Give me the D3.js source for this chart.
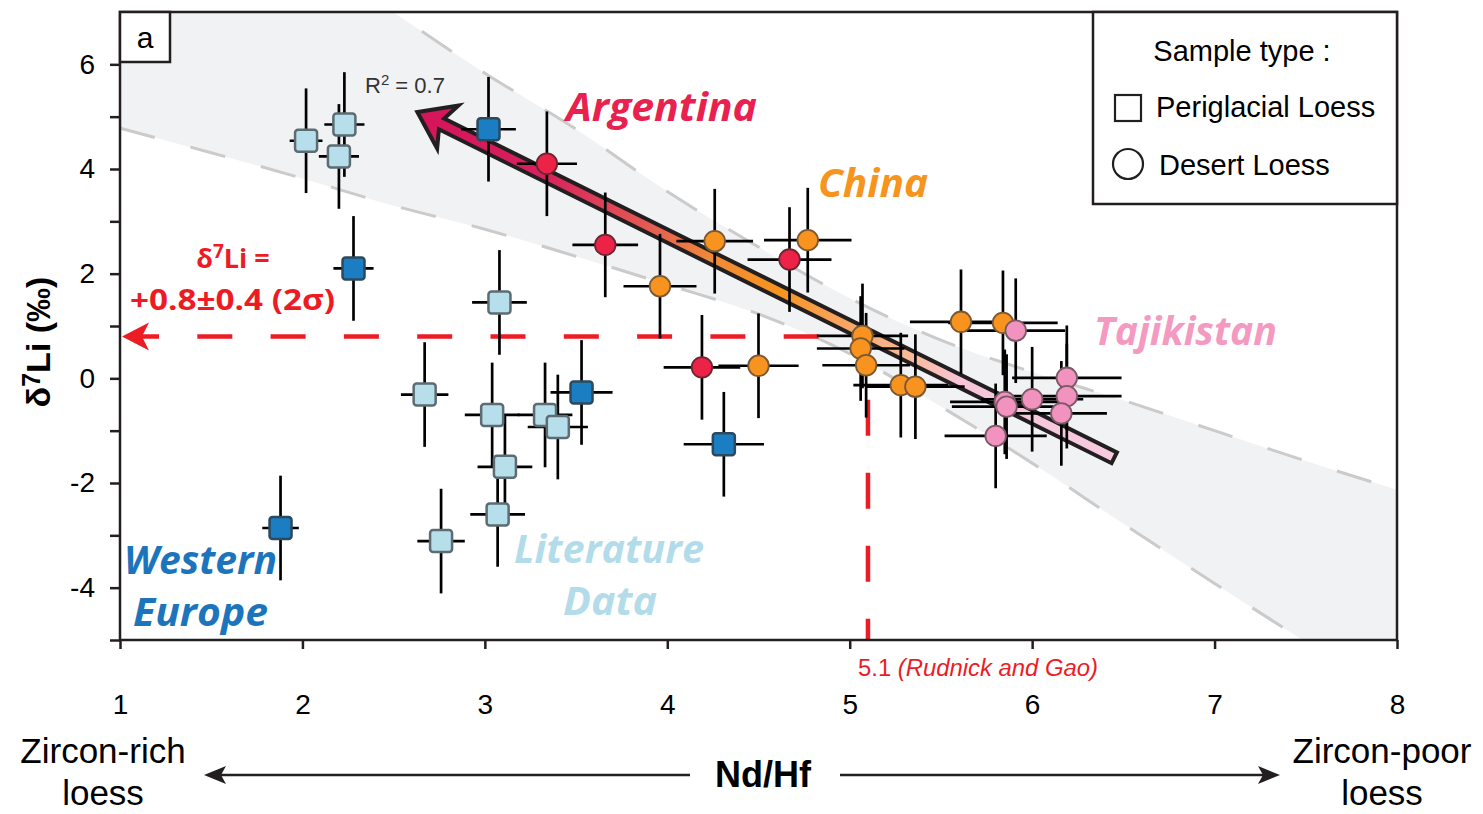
<!DOCTYPE html>
<html>
<head>
<meta charset="utf-8">
<script src="https://cdn.jsdelivr.net/npm/d3@7"></script>
<style>
  body { margin: 0; background: #fff; }
  svg { display: block; font-family: "Liberation Sans", Arial, sans-serif; }
</style>
</head>
<body>
<svg id="chart" width="1483" height="814"></svg>
<script>
// ---- data (Nd/Hf vs d7Li) ----
// Literature data, periglacial loess
const litX    = [2.02, 2.23, 2.20, 3.08, 2.67, 3.04, 3.33, 3.40, 3.11, 3.07, 2.76];
const litY    = [4.54, 4.85, 4.24, 1.45, -0.31, -0.70, -0.70, -0.93, -1.69, -2.60, -3.11];
const litXErr = [0.09, 0.11, 0.11, 0.15, 0.13, 0.15, 0.15, 0.165, 0.15, 0.15, 0.13];
const litYErr = [1, 1, 1, 1, 1, 1, 1, 1, 1, 1, 1];
// Western Europe, periglacial loess
const weuX    = [3.02, 2.28, 3.53, 4.31, 1.88];
const weuY    = [4.76, 2.10, -0.27, -1.26, -2.86];
const weuXErr = [0.15, 0.11, 0.17, 0.22, 0.10];
const weuYErr = [1, 1, 1, 1, 1];
// Argentina, desert loess
const argX    = [3.34, 3.66, 4.67, 4.19];
const argY    = [4.10, 2.55, 2.27, 0.21];
const argXErr = [0.165, 0.18, 0.23, 0.21];
const argYErr = [1, 1, 1, 1];
// China, desert loess
const chnX    = [4.26, 4.77, 3.96, 4.50, 5.07, 5.06, 5.09, 5.28, 5.36, 5.61, 5.84];
const chnY    = [2.62, 2.64, 1.76, 0.24, 0.81, 0.57, 0.25, -0.13, -0.16, 1.08, 1.06];
const chnXErr = [0.21, 0.24, 0.20, 0.22, 0.25, 0.24, 0.24, 0.26, 0.27, 0.28, 0.30];
const chnYErr = [1, 1, 1, 1, 1, 1, 1, 1, 1, 1, 1];
// Tajikistan, desert loess
const tjkX    = [5.91, 6.19, 6.19, 6.16, 6.00, 5.85, 5.86, 5.80];
const tjkY    = [0.91, 0.01, -0.34, -0.67, -0.40, -0.45, -0.54, -1.10];
const tjkXErr = [0.27, 0.30, 0.30, 0.25, 0.28, 0.30, 0.30, 0.28];
const tjkYErr = [1, 1, 1, 1, 1, 1, 1, 1];

// regression (R2 = 0.7) and its confidence band
const regIntercept = 9.64;
const regSlope = -1.73;
const regRange = [2.63, 6.45];
const bandX  = [1, 1.5, 2, 2.5, 3, 3.5, 4, 4.5, 5, 5.5, 6, 6.5, 7, 7.5, 8];
const bandHi = [10.55, 9.34, 8.13, 6.99, 5.83, 4.76, 3.57, 2.51, 1.53, 0.73, 0.12, -0.42, -1.0, -1.58, -2.13];
const bandLo = [4.78, 4.31, 3.82, 3.30, 2.85, 2.33, 1.79, 1.23, 0.47, -0.54, -1.62, -2.78, -3.92, -5.04, -6.17];

// reference values
const bulkLi = 0.8;      // d7Li = +0.8 +/- 0.4
const uccNdHf = 5.1;     // Rudnick and Gao
const xTicks = [1, 2, 3, 4, 5, 6, 7, 8];
const yTicks = [-5, -4, -3, -2, -1, 0, 1, 2, 3, 4, 5, 6];

// ---- setup ----
const svg = d3.select('#chart');
const ink = '#231f20';
const x = d3.scaleLinear().domain([1, 8]).range([120, 1397]);
const y = d3.scaleLinear().domain([-5, 7]).range([640, 12]);

const defs = svg.append('defs');
defs.append('clipPath').attr('id', 'plotClip')
  .append('rect')
  .attr('x', x(1)).attr('y', y(7))
  .attr('width', x(8) - x(1)).attr('height', y(-5) - y(7));

// confidence band
const band = bandX.map((d, i) => ({ x: d, lo: bandLo[i], hi: bandHi[i] }));
const plot = svg.append('g').attr('clip-path', 'url(#plotClip)');

plot.append('path')
  .datum(band)
  .attr('fill', '#f1f2f4')
  .attr('d', d3.area()
    .x(d => x(d.x))
    .y0(d => y(d.lo))
    .y1(d => y(d.hi))
    .curve(d3.curveMonotoneX));

['lo', 'hi'].forEach(k => {
  plot.append('path')
    .datum(band)
    .attr('fill', 'none')
    .attr('stroke', '#cbcbcb')
    .attr('stroke-width', 3)
    .attr('stroke-dasharray', '36,37')
    .attr('d', d3.line().x(d => x(d.x)).y(d => y(d[k])).curve(d3.curveMonotoneX));
});

// red reference lines
const red = '#ed1c24';
plot.append('line')
  .attr('x1', x(4.83)).attr('x2', x(1) + 12)
  .attr('y1', y(bulkLi)).attr('y2', y(bulkLi))
  .attr('stroke', red).attr('stroke-width', 4.5)
  .attr('stroke-dasharray', '35,38.3');
{
  const tx = x(1) + 2, ty = y(bulkLi);
  svg.append('path')
    .attr('d', `M${tx},${ty} L${tx + 27},${ty - 14} L${tx + 20},${ty} L${tx + 27},${ty + 14} Z`)
    .attr('fill', red);
}
plot.append('line')
  .attr('x1', x(uccNdHf)).attr('x2', x(uccNdHf))
  .attr('y1', y(-0.41)).attr('y2', y(-5))
  .attr('stroke', red).attr('stroke-width', 4.5)
  .attr('stroke-dasharray', '36,37');

// regression arrow with colour gradient
{
  const p0 = [x(regRange[0]), y(regIntercept + regSlope * regRange[0])];
  const p1 = [x(regRange[1]), y(regIntercept + regSlope * regRange[1])];
  const dx = p1[0] - p0[0], dy = p1[1] - p0[1];
  const len = Math.hypot(dx, dy);
  const u = [dx / len, dy / len];
  const n = [-u[1], u[0]];
  const hw = 6;
  const pt = (a, b) => [p0[0] + u[0] * a + n[0] * b, p0[1] + u[1] * a + n[1] * b];
  const pts = [
    pt(0, 0), pt(34, 24), pt(27, hw), pt(len, hw),
    pt(len, -hw), pt(27, -hw), pt(34, -24)
  ];
  const grad = defs.append('linearGradient')
    .attr('id', 'regGrad')
    .attr('gradientUnits', 'userSpaceOnUse')
    .attr('x1', p0[0]).attr('y1', p0[1])
    .attr('x2', p1[0]).attr('y2', p1[1]);
  [[0, '#d4145a'], [0.18, '#d7215d'], [0.33, '#e45a52'], [0.42, '#f0893a'],
   [0.52, '#f7941d'], [0.60, '#f8a25c'], [0.70, '#f9b994'], [0.78, '#f6c5d7'], [1, '#f7cadf']]
    .forEach(s => grad.append('stop').attr('offset', s[0]).attr('stop-color', s[1]));
  svg.append('path')
    .attr('d', 'M' + pts.map(p => p.join(',')).join('L') + 'Z')
    .attr('fill', 'url(#regGrad)')
    .attr('stroke', ink)
    .attr('stroke-width', 4)
    .attr('stroke-linejoin', 'miter');
}

// ---- samples ----
const groups = [
  { xs: litX, ys: litY, xe: litXErr, ye: litYErr, shape: 'square', fill: '#b7dfeb', stroke: '#5c6c72' },
  { xs: weuX, ys: weuY, xe: weuXErr, ye: weuYErr, shape: 'square', fill: '#1b7dc2', stroke: '#2c4a5e' },
  { xs: argX, ys: argY, xe: argXErr, ye: argYErr, shape: 'circle', fill: '#ec2347', stroke: '#6b2632' },
  { xs: chnX, ys: chnY, xe: chnXErr, ye: chnYErr, shape: 'circle', fill: '#f7931e', stroke: '#7a5833' },
  { xs: tjkX, ys: tjkY, xe: tjkXErr, ye: tjkYErr, shape: 'circle', fill: '#f193be', stroke: '#7c5968' }
];
const rows = g => g.xs.map((v, i) => ({ x: v, y: g.ys[i], xe: g.xe[i], ye: g.ye[i] }));

const bars = svg.append('g').attr('stroke', '#000').attr('stroke-width', 2.7);
groups.forEach(g => {
  const d = rows(g);
  bars.selectAll(null).data(d).enter().append('line')
    .attr('x1', d => x(d.x - d.xe)).attr('x2', d => x(d.x + d.xe))
    .attr('y1', d => y(d.y)).attr('y2', d => y(d.y));
  bars.selectAll(null).data(d).enter().append('line')
    .attr('x1', d => x(d.x)).attr('x2', d => x(d.x))
    .attr('y1', d => y(d.y - d.ye)).attr('y2', d => y(d.y + d.ye));
});

const marks = svg.append('g');
groups.forEach(g => {
  const sel = marks.selectAll(null).data(rows(g)).enter();
  if (g.shape === 'square') {
    sel.append('rect')
      .attr('x', d => x(d.x) - 11).attr('y', d => y(d.y) - 11)
      .attr('width', 22).attr('height', 22).attr('rx', 3)
      .attr('fill', g.fill).attr('stroke', g.stroke).attr('stroke-width', 2.5);
  } else {
    sel.append('circle')
      .attr('cx', d => x(d.x)).attr('cy', d => y(d.y)).attr('r', 10.3)
      .attr('fill', g.fill).attr('stroke', g.stroke).attr('stroke-width', 1.8);
  }
});

// ---- axes ----
const yAxis = svg.append('g')
  .attr('transform', `translate(${x(1)},0)`)
  .call(d3.axisLeft(y).tickValues(yTicks).tickSize(10).tickPadding(15)
    .tickFormat(d => (d % 2 === 0 && d > -5) ? d : ''));
const xAxis = svg.append('g')
  .attr('transform', `translate(0,${y(-5)})`)
  .call(d3.axisBottom(x).tickValues(xTicks).tickSize(9).tickPadding(45)
    .tickFormat(d3.format('d')));
[xAxis, yAxis].forEach(a => {
  a.select('.domain').remove();
  a.selectAll('line').attr('stroke', ink).attr('stroke-width', 2.5);
  a.selectAll('text').attr('fill', '#000').style('font-size', '28px')
    .style('font-family', '"Liberation Sans", Arial, sans-serif');
});

svg.append('rect')
  .attr('x', x(1)).attr('y', y(7))
  .attr('width', x(8) - x(1)).attr('height', y(-5) - y(7))
  .attr('fill', 'none').attr('stroke', ink).attr('stroke-width', 2.5);

// panel letter
svg.append('rect').attr('x', x(1)).attr('y', y(7)).attr('width', 50).attr('height', 50)
  .attr('fill', '#fff').attr('stroke', ink).attr('stroke-width', 2.5);
svg.append('text').attr('x', x(1) + 25).attr('y', y(7) + 36)
  .attr('text-anchor', 'middle').style('font-size', '30px').text('a');

// y label
const yl = svg.append('text')
  .attr('transform', 'translate(50,342) rotate(-90)')
  .attr('text-anchor', 'middle')
  .style('font-size', '34px').style('font-weight', 'bold');
yl.append('tspan').text('δ');
yl.append('tspan').attr('dy', -10).style('font-size', '25px').text('7');
yl.append('tspan').attr('dy', 10).text('Li (‰)');

// x label with arrows
svg.append('text').attr('x', 763).attr('y', 787).attr('text-anchor', 'middle')
  .style('font-size', '36px').style('font-weight', 'bold').text('Nd/Hf');
const arrowLine = (xa, xb) => {
  const yy = 775, dir = Math.sign(xb - xa);
  svg.append('line').attr('x1', xa).attr('x2', xb - dir * 12).attr('y1', yy).attr('y2', yy)
    .attr('stroke', ink).attr('stroke-width', 2.5);
  svg.append('path')
    .attr('d', `M${xb},${yy} L${xb - dir * 22},${yy - 9} L${xb - dir * 17},${yy} L${xb - dir * 22},${yy + 9} Z`)
    .attr('fill', ink);
};
arrowLine(690, 204);
arrowLine(840, 1280);
[['Zircon-rich', 'loess', 103], ['Zircon-poor', 'loess', 1382]].forEach(t => {
  svg.append('text').attr('x', t[2]).attr('y', 763).attr('text-anchor', 'middle')
    .style('font-size', '35px').text(t[0]);
  svg.append('text').attr('x', t[2]).attr('y', 805).attr('text-anchor', 'middle')
    .style('font-size', '35px').text(t[1]);
});

// Rudnick and Gao note
const rg = svg.append('text').attr('x', 858).attr('y', 676)
  .attr('textLength', 240).attr('lengthAdjust', 'spacingAndGlyphs')
  .attr('fill', red).style('font-size', '23px');
rg.append('tspan').text('5.1 ');
rg.append('tspan').style('font-style', 'italic').text('(Rudnick and Gao)');

// R2 note
const r2 = svg.append('text').attr('x', 365).attr('y', 93).attr('fill', '#333')
  .style('font-size', '22px');
r2.append('tspan').text('R');
r2.append('tspan').attr('dy', -8).style('font-size', '15px').text('2');
r2.append('tspan').attr('dy', 8).text(' = 0.7');

// bulk d7Li note
const sans = '"Open Sans", "Noto Sans", sans-serif';
const li1 = svg.append('text').attr('x', 233).attr('y', 268).attr('text-anchor', 'middle')
  .attr('fill', red).style('font-family', sans).style('font-weight', 'bold').style('font-size', '27px');
li1.append('tspan').text('δ');
li1.append('tspan').attr('dy', -10).style('font-size', '19px').text('7');
li1.append('tspan').attr('dy', 10).text('Li =');
svg.append('text').attr('x', 130).attr('y', 310)
  .attr('textLength', 205).attr('lengthAdjust', 'spacingAndGlyphs')
  .attr('fill', red).style('font-family', sans).style('font-weight', 'bold').style('font-size', '28px')
  .text('+0.8±0.4 (2σ)');

// region names
const region = (t, x0, y0, w, c) => svg.append('text')
  .attr('x', x0).attr('y', y0).attr('textLength', w).attr('lengthAdjust', 'spacingAndGlyphs')
  .attr('fill', c).style('font-family', sans).style('font-weight', 'bold')
  .style('font-style', 'italic').style('font-size', '40px').text(t);
region('Argentina', 566, 121, 191, '#e8214f');
region('China', 818, 197, 110, '#f7941d');
region('Tajikistan', 1094, 345, 183, '#f49ac1');
region('Western', 124, 574, 153, '#1c75bc');
region('Europe', 133, 626, 135, '#1c75bc');
region('Literature', 514, 563, 190, '#b3dcea');
region('Data', 563, 615, 94, '#b3dcea');

// legend
const lg = svg.append('g');
lg.append('rect').attr('x', 1093).attr('y', y(7)).attr('width', x(8) - 1093).attr('height', 192)
  .attr('fill', '#fff').attr('stroke', ink).attr('stroke-width', 2.5);
lg.append('text').attr('x', 1242).attr('y', 61).attr('text-anchor', 'middle')
  .style('font-size', '29px').text('Sample type :');
lg.append('rect').attr('x', 1115).attr('y', 95).attr('width', 26).attr('height', 26)
  .attr('fill', 'none').attr('stroke', ink).attr('stroke-width', 2.2);
lg.append('text').attr('x', 1156).attr('y', 117).style('font-size', '29px').text('Periglacial Loess');
lg.append('circle').attr('cx', 1128).attr('cy', 164).attr('r', 15)
  .attr('fill', 'none').attr('stroke', ink).attr('stroke-width', 2.2);
lg.append('text').attr('x', 1159).attr('y', 175).style('font-size', '29px').text('Desert Loess');
</script>
</body>
</html>
